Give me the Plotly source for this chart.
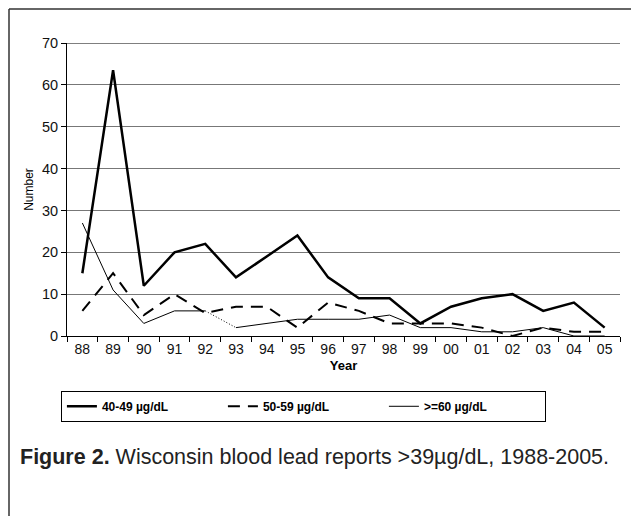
import plotly.graph_objects as go

years = ["88", "89", "90", "91", "92", "93", "94", "95", "96", "97", "98", "99",
         "00", "01", "02", "03", "04", "05"]
s40_49 = [15, 63.5, 12, 20, 22, 14, 19, 24, 14, 9, 9, 3, 7, 9, 10, 6, 8, 2]
s50_59 = [6, 15, 5, 10, 5.5, 7, 7, 2, 8, 6, 3, 3, 3, 2, 0, 2, 1, 1]
s60 = [27, 11, 3, 6, 6, 2, 3, 4, 4, 4, 5, 2, 2, 1, 1, 2, 0, 0]

FONT = "Liberation Sans, Arial, sans-serif"

fig = go.Figure()
fig.add_trace(go.Scatter(x=years, y=s40_49, mode="lines", name="<b>40-49 µg/dL</b>",
                         line=dict(color="black", width=2.5)))
fig.add_trace(go.Scatter(x=years, y=s50_59, mode="lines", name="<b>50-59 µg/dL</b>",
                         line=dict(color="black", width=2, dash="12px,8px")))
fig.add_trace(go.Scatter(x=years[:5], y=s60[:5], mode="lines", name="<b>>=60 µg/dL</b>",
                         line=dict(color="black", width=1)))
fig.add_trace(go.Scatter(x=years[4:6], y=s60[4:6], mode="lines", showlegend=False,
                         line=dict(color="black", width=1, dash="1px,2px")))
fig.add_trace(go.Scatter(x=years[5:], y=s60[5:], mode="lines", showlegend=False,
                         line=dict(color="black", width=1)))

W, H = 631, 508
L, T, PW, PH = 59, 35, 553, 293
fig.update_layout(
    width=W, height=H,
    margin=dict(l=L, r=W - L - PW, t=T, b=H - T - PH, autoexpand=False),
    paper_bgcolor="white", plot_bgcolor="white",
    font=dict(family=FONT, size=12, color="black"),
    xaxis=dict(type="category", tickson="boundaries", ticks="outside", ticklen=5,
               range=[-0.5, 17.5], automargin=False,
               tickcolor="black", showline=True, linecolor="black", linewidth=1,
               showgrid=False, tickfont=dict(size=14, color="#111111"),
               title=dict(text="<b>Year</b>", font=dict(size=13), standoff=5)),
    yaxis=dict(range=[0, 70], dtick=10, ticks="outside", ticklen=5, tickcolor="black",
               showline=True, linecolor="black", linewidth=1, automargin=False,
               showgrid=True, gridcolor="#777777", gridwidth=1, zeroline=False,
               tickfont=dict(size=14.5, color="#111111"),
               title=dict(text="Number", font=dict(size=12), standoff=5)),
    legend=dict(orientation="h", x=-0.011, xanchor="left", y=-0.187, yanchor="top",
                bordercolor="black", borderwidth=1, entrywidth=116,
                font=dict(size=12)),
    showlegend=True,
)

# top border of plot (70 line black)
fig.add_shape(type="line", xref="paper", yref="y", x0=0, x1=1, y0=70, y1=70,
              line=dict(color="black", width=1))
# outer frame
fx = (1 - L) / PW
fy = 1 + (T - 1) / PH
fig.add_shape(type="line", xref="paper", yref="paper", x0=fx, x1=fx, y0=-1, y1=fy,
              line=dict(color="#333333", width=1.5))
fig.add_shape(type="line", xref="paper", yref="paper", x0=fx, x1=1.1, y0=fy, y1=fy,
              line=dict(color="#333333", width=1.5))

fig.add_annotation(xref="paper", yref="paper", x=(10 - L) / PW, y=-(449 - T - PH) / PH,
                   xanchor="left", yanchor="middle",
                   text="<b>Figure 2.</b> Wisconsin blood lead reports >39µg/dL, 1988-2005.",
                   showarrow=False, font=dict(size=21.5, family=FONT, color="#222222"))

fig.write_html("out.html")
